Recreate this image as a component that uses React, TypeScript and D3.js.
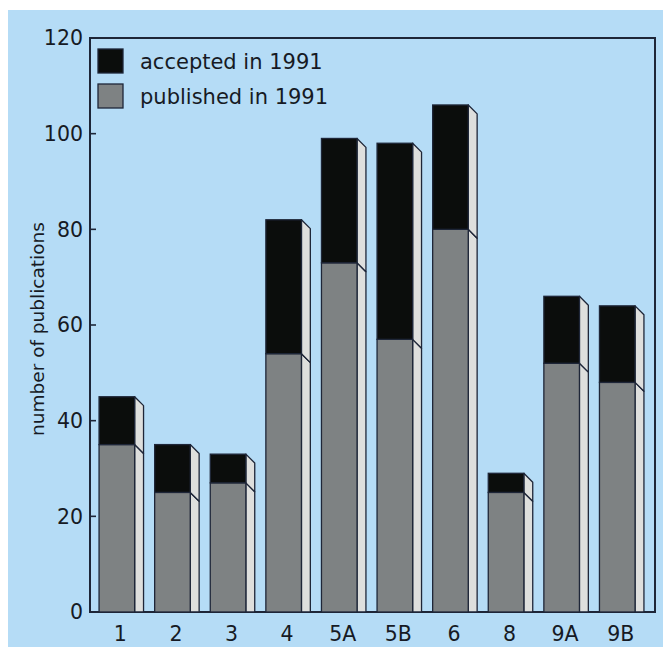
import React from "react";
import * as d3 from "d3";

const categories = ["1", "2", "3", "4", "5A", "5B", "6", "8", "9A", "9B"];
const published = [35, 25, 27, 54, 73, 57, 80, 25, 52, 48];
const accepted = [10, 10, 6, 28, 26, 41, 26, 4, 14, 16];
const yTicks = [0, 20, 40, 60, 80, 100, 120];
const legendLabels = ["accepted in 1991", "published in 1991"];

const W = 663;
const H = 647;
const FONT = "'DejaVu Sans', sans-serif";

const BG = "#b5dcf6";
const FRONT_GRAY = "#7e8283";
const FRONT_BLACK = "#0b0d0c";
const SIDE = "#dedfdd";
const STROKE = "#1e2638";
const TEXT = "#161a24";

export default function App() {
  const frame = { left: 90, right: 655, top: 38, bottom: 612 };
  const y = d3.scaleLinear().domain([0, 120]).range([frame.bottom, frame.top]);
  const x = d3
    .scaleBand<string>()
    .domain(categories)
    .range([93.5, 649.5])
    .paddingInner(0.2)
    .paddingOuter(0.1);
  const bw = x.bandwidth();
  const frontW = bw * 0.8;
  const sideW = bw - frontW;
  const drop = sideW;

  const bars = categories.map((c, i) => {
    const x0 = x(c)!;
    const xr = x0 + frontW;
    const pubTop = y(published[i]);
    const accTop = y(published[i] + accepted[i]);
    const base = y(0);
    return (
      <g key={c}>
        <path
          d={`M${xr},${pubTop} L${xr + sideW},${pubTop + drop} L${xr + sideW},${base} L${xr},${base} Z`}
          fill={SIDE}
          stroke={STROKE}
          strokeWidth={1.3}
          strokeLinejoin="round"
        />
        <path
          d={`M${xr},${accTop} L${xr + sideW},${accTop + drop} L${xr + sideW},${pubTop + drop} L${xr},${pubTop} Z`}
          fill={SIDE}
          stroke={STROKE}
          strokeWidth={1.3}
          strokeLinejoin="round"
        />
        <rect x={x0} y={pubTop} width={frontW} height={base - pubTop} fill={FRONT_GRAY} stroke={STROKE} strokeWidth={1.3} />
        <rect x={x0} y={accTop} width={frontW} height={pubTop - accTop} fill={FRONT_BLACK} stroke={STROKE} strokeWidth={1.3} />
        <text
          x={x0 + bw / 2 - 1}
          y={641}
          textAnchor="middle"
          fontFamily={FONT}
          fontSize={20.5}
          fill={TEXT}
        >
          {c}
        </text>
      </g>
    );
  });

  return (
    <svg
      width={W}
      height={H}
      style={{ position: "absolute", left: 0, top: 0, background: "#ffffff" }}
    >
      <rect x={8} y={10} width={W - 8} height={H - 10} fill={BG} />
      <rect
        x={frame.left}
        y={frame.top}
        width={frame.right - frame.left}
        height={frame.bottom - frame.top}
        fill="none"
        stroke={STROKE}
        strokeWidth={2}
      />
      {yTicks.map((t) => (
        <g key={t}>
          <line x1={frame.left} x2={frame.left + 6} y1={y(t)} y2={y(t)} stroke={STROKE} strokeWidth={1.6} />
          <text
            x={83}
            y={y(t)}
            dy="0.36em"
            textAnchor="end"
            fontFamily={FONT}
            fontSize={20.5}
            fill={TEXT}
          >
            {t}
          </text>
        </g>
      ))}
      <text
        transform={`translate(44,${(frame.top + frame.bottom) / 2 + 4}) rotate(-90)`}
        textAnchor="middle"
        fontFamily={FONT}
        fontSize={18.5}
        fill={TEXT}
      >
        number of publications
      </text>
      {bars}
      {legendLabels.map((lab, i) => (
        <g key={lab} transform={`translate(98,${49 + i * 35})`}>
          <rect width={25} height={24} fill={i === 0 ? FRONT_BLACK : FRONT_GRAY} stroke={STROKE} strokeWidth={1.3} />
          <text x={42} y={12} dy="0.36em" fontFamily={FONT} fontSize={21} fill={TEXT}>
            {lab}
          </text>
        </g>
      ))}
    </svg>
  );
}
